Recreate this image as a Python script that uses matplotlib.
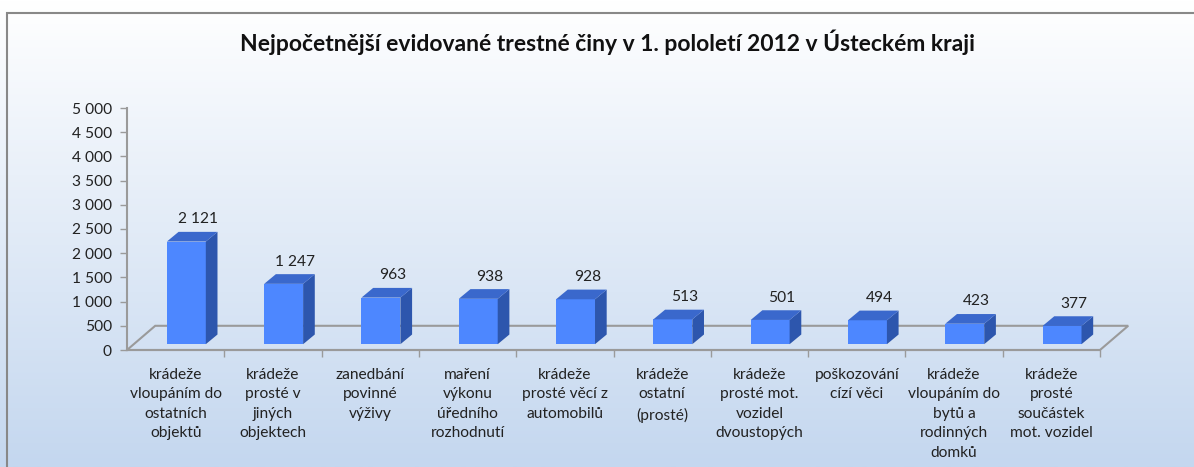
import numpy as np
import matplotlib.pyplot as plt
from matplotlib.patches import Polygon, Rectangle

plt.rcParams['font.family'] = ['Lato', 'DejaVu Sans']

title = 'Nejpočetnější evidované trestné činy v 1. pololetí 2012 v Ústeckém kraji'
categories = [
    'krádeže\nvloupáním do\nostatních\nobjektů',
    'krádeže\nprosté v\njiných\nobjektech',
    'zanedbání\npovinné\nvýživy',
    'maření\nvýkonu\núředního\nrozhodnutí',
    'krádeže\nprosté věcí z\nautomobilů',
    'krádeže\nostatní\n(prosté)',
    'krádeže\nprosté mot.\nvozidel\ndvoustopých',
    'poškozování\ncízí věci',
    'krádeže\nvloupáním do\nbytů a\nrodinných\ndomků',
    'krádeže\nprosté\nsoučástek\nmot. vozidel',
]
values = [2121, 1247, 963, 938, 928, 513, 501, 494, 423, 377]
y_ticks = [0, 500, 1000, 1500, 2000, 2500, 3000, 3500, 4000, 4500, 5000]


def fmt(v):
    return f'{v:,}'.replace(',', ' ')


W, H = 1194, 467
fig = plt.figure(figsize=(W / 100, H / 100), dpi=100)

# gradient background + frame
bg = fig.add_axes([0, 0, 1, 1])
grad = np.linspace(0, 1, 256).reshape(-1, 1)
top_c = np.array([1.0, 1.0, 1.0])
bot_c = np.array([0xc4, 0xd7, 0xef]) / 255
img = top_c * (1 - grad[..., None]) + bot_c * grad[..., None]
bg.imshow(img, aspect='auto', extent=[0, 1, 0, 1], origin='upper')
bg.add_patch(Rectangle((7 / W, -0.05), 1.1, 1 - 13 / H + 0.05, fill=False,
                       edgecolor='#888888', lw=1.5))
bg.set_xlim(0, 1)
bg.set_ylim(0, 1)
bg.axis('off')

left, right = 127 / W, 1100 / W
bottom, top = (H - 350) / H, (H - 108) / H
ax = fig.add_axes([left, bottom, right - left, top - bottom])
ax.patch.set_alpha(0)

n = len(values)
x = np.arange(n)
ax.set_xlim(-0.5, n - 0.5)
ax.set_ylim(0, 5000)

# floor depth
fx, fy = 0.29, 500
line_c = '#9a9a9a'
floor = Polygon([(-0.5, 0), (n - 0.5, 0), (n - 0.5 + fx, fy), (-0.5 + fx, fy)],
                closed=True, fill=False, edgecolor=line_c, lw=1.5, clip_on=False)
ax.add_patch(floor)

# bars
bw = 0.4
bx, by = 0.11, 0.24 * fy
dx, dy = 0.12, 200
front_c, side_c, top_col = '#4d87ff', '#2d56ad', '#3a68cc'
bars = ax.bar(x + bx, values, width=bw, bottom=by, color=front_c,
              edgecolor='none', zorder=3, clip_on=False)
for b, v in zip(bars, values):
    l = b.get_x()
    r = l + b.get_width()
    t = by + v
    ax.add_patch(Polygon([(r, by), (r + dx, by + dy), (r + dx, t + dy), (r, t)],
                         closed=True, facecolor=side_c, edgecolor='none',
                         zorder=3, clip_on=False))
    ax.add_patch(Polygon([(l, t), (r, t), (r + dx, t + dy), (l + dx, t + dy)],
                         closed=True, facecolor=top_col, edgecolor='none',
                         zorder=3, clip_on=False))
    ax.annotate(fmt(v), (l + bw / 2 + dx, t + dy), xytext=(0, 4),
                textcoords='offset points', ha='center', va='bottom',
                fontsize=11.2, color='#222222', zorder=4)

# axes styling
for s in ['top', 'right']:
    ax.spines[s].set_visible(False)
for s in ['left', 'bottom']:
    ax.spines[s].set_color(line_c)
    ax.spines[s].set_linewidth(1.5)

ax.set_yticks(y_ticks)
ax.set_yticklabels([fmt(t) for t in y_ticks], fontsize=11.2, color='#222222')
ax.tick_params(axis='y', length=5, width=1, color=line_c, pad=6)

ax.set_xticks(np.arange(n) + 0.5)
ax.set_xticklabels([])
ax.tick_params(axis='x', length=5, width=1, color=line_c)
for xi, lab in zip(x, categories):
    ax.text(xi, -370, lab, ha='center', va='top', fontsize=11.2,
            color='#222222', linespacing=1.5, clip_on=False)

fig.text(607 / W, 1 - 42 / H, title, ha='center', va='center',
         fontsize=16.5, fontweight='bold', color='#111111')

fig.savefig('out.png', dpi=100)
